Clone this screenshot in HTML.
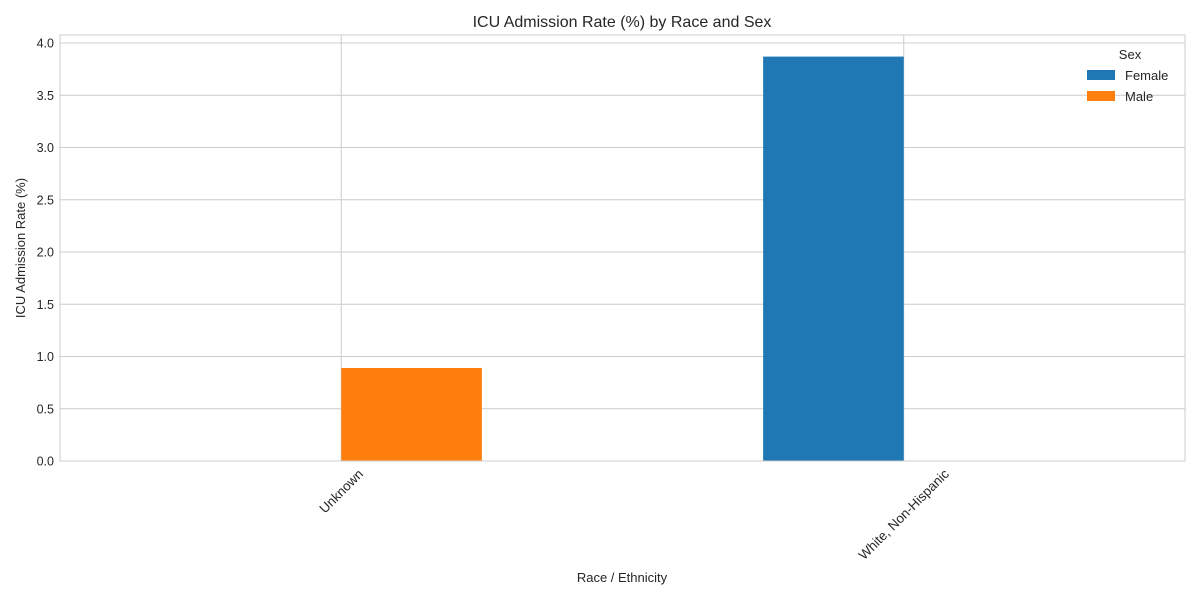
<!DOCTYPE html>
<html><head><meta charset="utf-8"><style>
body{margin:0;background:#fff;font-family:"Liberation Sans",Arial,sans-serif;}
</style></head><body>
<svg id="chart" width="1200" height="600" xmlns="http://www.w3.org/2000/svg" font-family="Liberation Sans, Arial, sans-serif">
<text x="622" y="27" text-anchor="middle" font-size="16" fill="#262626">ICU Admission Rate (%) by Race and Sex</text>
<text x="622" y="582" text-anchor="middle" font-size="13" fill="#262626">Race / Ethnicity</text>
<text transform="translate(25,248) rotate(-90)" text-anchor="middle" font-size="13" fill="#262626">ICU Admission Rate (%)</text>
<g id="grid"></g><g id="bars"></g><g id="axes"></g>
<rect x="60" y="35" width="1125" height="426" fill="none" stroke="#cccccc" stroke-width="1"/>
<g>
<text x="1130" y="59" text-anchor="middle" font-size="13" fill="#262626">Sex</text>
<g><rect x="1087" y="70" width="28" height="10" fill="#1f77b4"/><text x="1125" y="80" font-size="13" fill="#262626">Female</text></g>
<g><rect x="1087" y="91" width="28" height="10" fill="#ff7f0e"/><text x="1125" y="101" font-size="13" fill="#262626">Male</text></g>
</g>
</svg>
<script>
const categories=["Unknown","White, Non-Hispanic"];
const femaleValues=[0,3.87];
const maleValues=[0.89,0];
const yTicks=[0,0.5,1.0,1.5,2.0,2.5,3.0,3.5,4.0];
const NS="http://www.w3.org/2000/svg";
const X0=60,X1=1185,Y0=461,Y1=43;
const xs=v=>X0+(v+0.5)/2*(X1-X0);
const ys=v=>Y0-(v/4)*(Y0-Y1);
function mk(t,a,p){const e=document.createElementNS(NS,t);for(const k in a)e.setAttribute(k,a[k]);p.appendChild(e);return e;}
const grid=document.getElementById('grid'),bars=document.getElementById('bars'),axes=document.getElementById('axes');
yTicks.forEach(v=>{
 const l=mk('line',{x1:X0,x2:X1,y1:ys(v),y2:ys(v),stroke:'#cccccc','stroke-width':1},grid);
 
 
 const t=mk('text',{x:X0-6,y:ys(v)+4.5,'text-anchor':'end','font-size':12.5,fill:'#262626'},axes);
 t.textContent=v.toFixed(1);
 
 
});
const bw=0.25;
categories.forEach((c,i)=>{
 const l=mk('line',{x1:xs(i),x2:xs(i),y1:35,y2:Y0,stroke:'#cccccc','stroke-width':1},grid);
 
 
 const f=mk('rect',{x:xs(i-bw),y:ys(femaleValues[i]),width:xs(i)-xs(i-bw),height:Y0-ys(femaleValues[i]),fill:'#1f77b4'},bars);
 
 
 const m=mk('rect',{x:xs(i),y:ys(maleValues[i]),width:xs(i+bw)-xs(i),height:Y0-ys(maleValues[i]),fill:'#ff7f0e'},bars);
 
 
 const t=mk('text',{'text-anchor':'middle','font-size':13.3,fill:'#262626'},axes);
 t.textContent=c;
 
 
 const L=t.getComputedTextLength();
 const h=(L+13)*0.7071;
 t.setAttribute('transform',`translate(${xs(i)},${Y0+6+h/2}) rotate(-45)`);
 t.setAttribute('dy','4.5');
});
</script>
</body></html>
